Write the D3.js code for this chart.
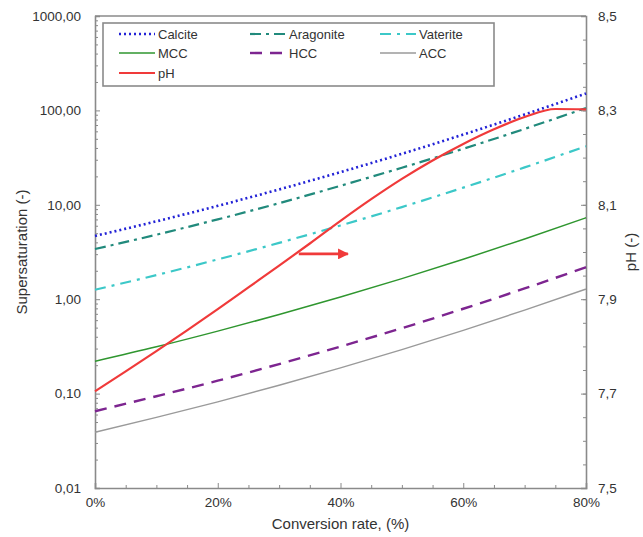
<!DOCTYPE html>
<html>
<head>
<meta charset="utf-8">
<script src="https://cdn.jsdelivr.net/npm/d3@7"></script>
<style>
    body { margin: 0; background: #fff; }
    svg { font-family: "Liberation Sans", Arial, sans-serif; }
    .tick text { font-size: 13.5px; fill: #333; }
    .axis path, .axis line { stroke: #8a8a8a; }
    .title { font-size: 15px; fill: #333; }
    .legend text { font-size: 13px; fill: #333; }
</style>
</head>
<body>
<div id="view"></div>
<script>
// conversion rate (%) for the supersaturation curves
var conversion = [0, 10, 20, 30, 40, 50, 60, 70, 80];
var calcite   = [4.68, 6.68, 9.75, 14.55, 22.2, 34.7, 55.5, 90.6, 151];
var aragonite = [3.4, 4.82, 7.01, 10.4, 15.9, 24.7, 39.2, 63.7, 106];
var vaterite  = [1.26, 1.8, 2.64, 3.95, 6.04, 9.46, 15.2, 24.9, 41.7];
var mcc       = [0.22, 0.313, 0.459, 0.687, 1.053, 1.651, 2.648, 4.345, 7.29];
var hcc       = [0.065, 0.0938, 0.137, 0.2056, 0.315, 0.493, 0.792, 1.3, 2.18];
var acc       = [0.039, 0.056, 0.0818, 0.1225, 0.187, 0.292, 0.468, 0.766, 1.28];

// pH curve (right axis)
var phConversion = [0, 5, 10, 15, 20, 25, 30, 35, 40, 45, 50, 55, 60, 65, 70, 75, 80];
var ph = [7.705, 7.747, 7.79, 7.834, 7.879, 7.925, 7.971, 8.018, 8.066, 8.112, 8.155, 8.194, 8.229, 8.26, 8.286, 8.303, 8.302];

// arrow pointing at the pH axis: [conversion, pH]
var arrow = [[33.2, 7.996], [41.2, 7.996]];

var xTicks = [0, 20, 40, 60, 80];
var yTicks = [0.01, 0.1, 1, 10, 100, 1000];
var phTicks = [7.5, 7.7, 7.9, 8.1, 8.3, 8.5];

var series = [
    {name: "Calcite",   values: calcite,   color: "#2222d6", width: 2.6, dash: "2,3"},
    {name: "Aragonite", values: aragonite, color: "#218a7c", width: 2.2, dash: "11,5,3,5"},
    {name: "Vaterite",  values: vaterite,  color: "#3cc8c8", width: 2.2, dash: "11,6,3,6"},
    {name: "MCC",       values: mcc,       color: "#2f962f", width: 1.5, dash: null},
    {name: "HCC",       values: hcc,       color: "#7d2590", width: 2.4, dash: "12,8"},
    {name: "ACC",       values: acc,       color: "#9a9a9a", width: 1.4, dash: null},
];
var phStyle = {name: "pH", color: "#f03a3a", width: 2.2};

var W = 643, H = 537;
var m = {left: 95, top: 16, right: 57, bottom: 49};

var x = d3.scaleLinear().domain([0, 80]).range([m.left, W - m.right]);
var y = d3.scaleLog().domain([0.01, 1000]).range([H - m.bottom, m.top]);
var yPh = d3.scaleLinear().domain([7.5, 8.5]).range([H - m.bottom, m.top]);

var comma = f => (v => f(v).replace(".", ","));

var svg = d3.select("#view").append("svg")
    .attr("width", W)
    .attr("height", H)
;

// minor ticks
var minorY = [];
[0.01, 0.1, 1, 10, 100].forEach(d => {
    for (var k = 2; k < 10; k++) minorY.push(d * k);
});
var minorPh = d3.range(7.55, 8.5, 0.05);
var minorX = d3.range(5, 80, 5).filter(v => v % 20 != 0);

svg.append("g").attr("class", "axis")
    .attr("transform", `translate(${m.left},0)`)
    .call(d3.axisRight(y).tickValues(minorY).tickSize(3).tickFormat(""))
    .call(g => g.select(".domain").remove())
;
svg.append("g").attr("class", "axis")
    .attr("transform", `translate(${W - m.right},0)`)
    .call(d3.axisLeft(yPh).tickValues(minorPh).tickSize(3).tickFormat(""))
    .call(g => g.select(".domain").remove())
;
svg.append("g").attr("class", "axis")
    .attr("transform", `translate(0,${H - m.bottom})`)
    .call(d3.axisTop(x).tickValues(minorX).tickSize(3).tickFormat(""))
    .call(g => g.select(".domain").remove())
;

// main axes
svg.append("g").attr("class", "axis")
    .attr("transform", `translate(${m.left},0)`)
    .call(d3.axisLeft(y).tickValues(yTicks).tickSize(-5).tickPadding(14).tickFormat(comma(d3.format(".2f"))))
    .call(g => g.select(".domain").attr("stroke-width", 1.6))
;
svg.append("g").attr("class", "axis")
    .attr("transform", `translate(${W - m.right},0)`)
    .call(d3.axisRight(yPh).tickValues(phTicks).tickSize(-5).tickPadding(12).tickFormat(comma(d3.format(".1f"))))
    .call(g => g.select(".domain").attr("stroke-width", 1.6))
;
svg.append("g").attr("class", "axis")
    .attr("transform", `translate(0,${H - m.bottom})`)
    .call(d3.axisBottom(x).tickValues(xTicks).tickSize(-5).tickPadding(9).tickFormat(d => d + "%"))
    .call(g => g.select(".domain").attr("stroke-width", 1.6))
;
svg.append("line")
    .attr("x1", m.left).attr("x2", W - m.right)
    .attr("y1", m.top).attr("y2", m.top)
    .attr("stroke", "#8a8a8a").attr("stroke-width", 1.6)
;

// curves
var line = d3.line()
    .x((d, i) => x(conversion[i]))
    .y(d => y(d))
    .curve(d3.curveMonotoneX)
;
svg.append("g").selectAll("path")
    .data(series)
    .enter()
    .append("path")
    .attr("fill", "none")
    .attr("stroke", d => d.color)
    .attr("stroke-width", d => d.width)
    .attr("stroke-dasharray", d => d.dash)
    .attr("d", d => line(d.values))
;

var phLine = d3.line()
    .x((d, i) => x(phConversion[i]))
    .y(d => yPh(d))
    .curve(d3.curveMonotoneX)
;
svg.append("path")
    .attr("fill", "none")
    .attr("stroke", phStyle.color)
    .attr("stroke-width", phStyle.width)
    .attr("d", phLine(ph))
;

// arrow
svg.append("defs").append("marker")
    .attr("id", "head")
    .attr("viewBox", "0 0 10 10")
    .attr("refX", 9).attr("refY", 5)
    .attr("markerWidth", 4.2).attr("markerHeight", 4.2)
    .attr("markerUnits", "strokeWidth")
    .attr("orient", "auto")
    .append("path")
    .attr("d", "M0,0L10,5L0,10Z")
    .attr("fill", phStyle.color)
;
svg.append("line")
    .attr("x1", x(arrow[0][0])).attr("y1", yPh(arrow[0][1]))
    .attr("x2", x(arrow[1][0])).attr("y2", yPh(arrow[1][1]))
    .attr("stroke", phStyle.color)
    .attr("stroke-width", 2.6)
    .attr("marker-end", "url(#head)")
;

// axis titles
svg.append("text").attr("class", "title")
    .attr("transform", `translate(27,${(m.top + H - m.bottom) / 2}) rotate(-90)`)
    .attr("text-anchor", "middle")
    .text("Supersaturation (-)")
;
svg.append("text").attr("class", "title")
    .attr("transform", `translate(636,${(m.top + H - m.bottom) / 2}) rotate(-90)`)
    .attr("text-anchor", "middle")
    .text("pH (-)")
;
svg.append("text").attr("class", "title")
    .attr("x", (m.left + W - m.right) / 2)
    .attr("y", 529)
    .attr("text-anchor", "middle")
    .text("Conversion rate, (%)")
;

// legend
var legendItems = series.concat([phStyle]);
var colX = [119, 250, 380];
var rowY = [34, 53, 73];
var legend = svg.append("g").attr("class", "legend");
legend.append("rect")
    .attr("x", 103).attr("y", 23)
    .attr("width", 391).attr("height", 63)
    .attr("fill", "#fff")
    .attr("stroke", "#8a8a8a")
    .attr("stroke-width", 1.6)
;
var item = legend.selectAll(".item")
    .data(legendItems)
    .enter()
    .append("g")
    .attr("class", "item")
    .attr("transform", (d, i) => `translate(${colX[i % 3]},${rowY[Math.floor(i / 3)]})`)
;
item.append("line")
    .attr("x1", 0).attr("x2", 36)
    .attr("stroke", d => d.color)
    .attr("stroke-width", d => d.width)
    .attr("stroke-dasharray", d => d.dash || null)
;
item.append("text")
    .attr("x", 39)
    .attr("dy", "0.35em")
    .text(d => d.name)
;
</script>
</body>
</html>
